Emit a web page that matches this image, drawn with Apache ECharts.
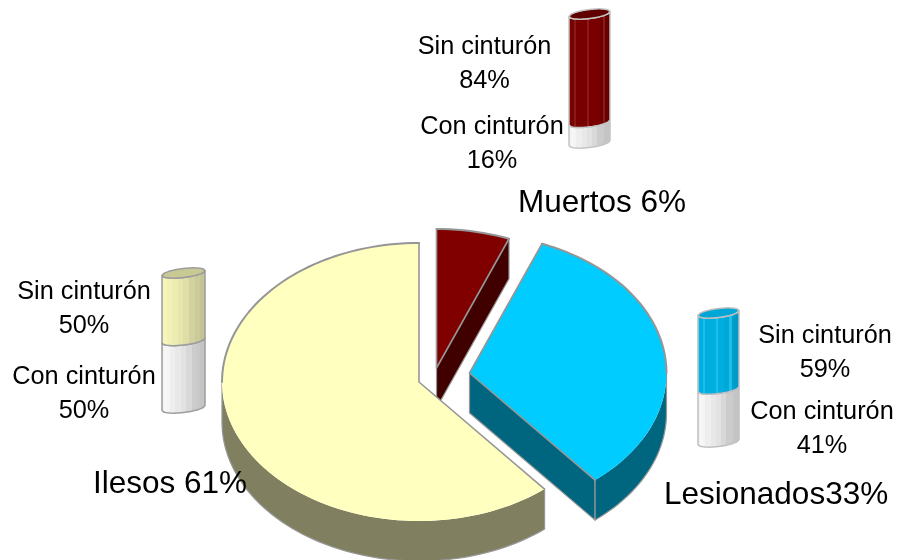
<!DOCTYPE html>
<html>
<head>
<meta charset="utf-8">
<script src="https://cdn.jsdelivr.net/npm/echarts@6/dist/echarts.min.js"></script>
<style>
  html, body { margin: 0; padding: 0; background: #fff; }
  #chart { width: 897px; height: 560px; }
</style>
</head>
<body>
<div id="chart"></div>
<script>
// data
const sliceNames = ['Muertos', 'Lesionados', 'Ilesos'];
const sliceShares = [6, 33, 61];
const sinCinturon = [84, 59, 50];
const conCinturon = [16, 41, 50];
const sinLabel = 'Sin cinturón';
const conLabel = 'Con cinturón';

// layout and styles
const FONT = '"Liberation Sans", Arial, sans-serif';
const RX = 197;
const RY = 139;
const DEPTH = 40;
const EDGE = '#969696';
const sliceCenters = [[436.5, 368], [469.5, 373], [419, 382]];
const sliceTops = ['#800000', '#00ccff', '#ffffc0'];
const sliceWalls = ['#400000', '#006680', '#808060'];
const cylRects = [
  { left: 569, width: 41, top: 14, height: 129 },
  { left: 698, width: 41, top: 313, height: 129 },
  { left: 162, width: 43, top: 273, height: 135 }
];
const cylCaps = ['#600000', '#00a6d6', '#c9c994'];
const cylEdges = ['#c4c4c4', '#c0c0c0', '#9c9c9c'];
const M = '#780000';
const M2 = '#8a1a1a';
const B = '#00aedf';
const B2 = '#1cbeec';
const cylBands = [
  ['#7c0000', M, M2, M, M, M, M, M2, M, M, M, M, '#6e0000', M2, '#680000', '#600000'],
  ['#00b8e8', B, B2, B, B, B, B, B2, B, B, '#00a8d8', '#00a8d8', B2, '#00a0cc', '#009cc8', '#0098c4'],
  ['#f6f6b8', '#f6f6b8', '#f2f2b8', '#f2f2b8', '#ececb2', '#ececb2', '#e6e6ac', '#e6e6ac', '#deDEa6', '#deDEa6', '#d2d2a0', '#d2d2a0', '#caca9a', '#caca9a', '#c4c494', '#c4c494']
];
const whiteBands = ['#f2f2f2', '#f6f6f6', '#f4f4f4', '#eeeeee', '#eeeeee', '#e8e8e8', '#e8e8e8', '#e2e2e2', '#e2e2e2', '#d8d8d8', '#d8d8d8', '#cccccc', '#cccccc', '#c8c8c8', '#c4c4c4', '#c4c4c4'];
const pieLabelPos = [[602, 203], [664, 495], [170, 484]];
const sinLabelPos = [[484.5, 64], [825, 353], [84, 309]];
const conLabelPos = [[492, 144], [822, 429], [84, 394]];

const rad = (d) => (d * Math.PI) / 180;

// a: degrees clockwise from the top of the ellipse
function arc(c, a0, a1, dy) {
  const pts = [];
  const n = Math.max(2, Math.ceil(Math.abs(a1 - a0) / 2));
  for (let i = 0; i <= n; i++) {
    const a = rad(a0 + ((a1 - a0) * i) / n);
    pts.push([c[0] + RX * Math.sin(a), c[1] - RY * Math.cos(a) + dy]);
  }
  return pts;
}

function line(points, width) {
  return {
    type: 'polyline',
    shape: { points },
    style: { fill: null, stroke: EDGE, lineWidth: width, lineJoin: 'round', lineCap: 'round' }
  };
}

function renderSlice(params, api) {
  const i = params.dataIndex;
  let before = 0;
  for (let k = 0; k < i; k++) before += sliceShares[k];
  const a0 = (before / 100) * 360;
  const a1 = a0 + (api.value(0) / 100) * 360;
  const c = sliceCenters[i];
  const children = [];

  // radial wall, only when it faces the viewer
  if (a1 > 0 && a1 < 180) {
    const p = arc(c, a1, a1, 0)[0];
    const q = [p[0], p[1] + DEPTH];
    const d = [c[0], c[1] + DEPTH];
    children.push({
      type: 'polygon',
      shape: { points: [c, p, q, d] },
      style: { fill: sliceWalls[i], stroke: null }
    });
    children.push(line([c, d, q, p], 1.2));
  }
  // outer wall, front half of the ellipse
  const w0 = Math.max(a0, 90);
  const w1 = Math.min(a1, 270);
  if (w1 > w0) {
    const top = arc(c, w0, w1, 0);
    const bottom = arc(c, w1, w0, DEPTH);
    children.push({
      type: 'polygon',
      shape: { points: top.concat(bottom) },
      style: { fill: sliceWalls[i], stroke: null }
    });
    children.push(line([top[top.length - 1]].concat(bottom, [top[0]]), 1.2));
  }
  // top face, the front of the arc stays unstroked
  children.push({
    type: 'polygon',
    shape: { points: [c].concat(arc(c, a0, a1, 0)) },
    style: { fill: sliceTops[i], stroke: null }
  });
  const start = arc(c, a0, a0, 0)[0];
  const end = arc(c, a1, a1, 0)[0];
  children.push(line([start, c, end], 1.6));
  if (a0 < 90) children.push(line(arc(c, a0, Math.min(a1, 90), 0), 2));
  if (a1 > 270) children.push(line(arc(c, Math.max(a0, 270), a1, 0), 2));
  return { type: 'group', children };
}

function bandFill(bands) {
  const stops = [];
  bands.forEach((color, i) => {
    stops.push({ offset: i / bands.length, color });
    stops.push({ offset: (i + 1) / bands.length, color });
  });
  return new echarts.graphic.LinearGradient(0, 0, 1, 0, stops);
}

// front (sign 1) or back (sign -1) edge of a cylinder ring, left to right
function ring(box, y, sign) {
  const pts = [];
  const rx = box.width / 2;
  const ry = 4.5;
  const tilt = 2.5;
  for (let i = 0; i <= 24; i++) {
    const u = -1 + i / 12;
    pts.push([
      box.x + rx + rx * u,
      y + sign * ry * Math.sqrt(1 - u * u) - tilt * u
    ]);
  }
  return pts;
}

function renderCylinder(cyl, params, api) {
  const box = params.coordSys;
  const yLow = api.coord([0, api.value(1)])[1];
  const yHigh = api.coord([0, api.value(2)])[1];
  const isSin = params.dataIndex === 1;
  const bands = isSin ? cylBands[cyl] : whiteBands;
  const edge = cylEdges[cyl];
  const children = [{
    type: 'polygon',
    shape: { points: ring(box, yHigh, 1).concat(ring(box, yLow, 1).reverse()) },
    style: { fill: bandFill(bands), stroke: edge, lineWidth: 1.5, lineJoin: 'round' }
  }];
  if (isSin) {
    children.push({
      type: 'polygon',
      shape: { points: ring(box, yHigh, 1).concat(ring(box, yHigh, -1).reverse()) },
      style: { fill: cylCaps[cyl], stroke: edge, lineWidth: 1.5, lineJoin: 'round' }
    });
  }
  return { type: 'group', children };
}

const grid = cylRects.map((r) => Object.assign({ containLabel: false }, r));
const xAxis = cylRects.map((r, i) => ({ gridIndex: i, type: 'value', min: 0, max: 1, show: false }));
const yAxis = cylRects.map((r, i) => ({ gridIndex: i, type: 'value', min: 0, max: 100, show: false }));

const cylinderSeries = sliceNames.map((name, i) => ({
  type: 'custom',
  name,
  xAxisIndex: i,
  yAxisIndex: i,
  coordinateSystem: 'cartesian2d',
  encode: { x: 0, y: [1, 2] },
  clip: false,
  silent: true,
  renderItem: (params, api) => renderCylinder(i, params, api),
  data: [
    [0, 0, conCinturon[i]],
    [0, conCinturon[i], conCinturon[i] + sinCinturon[i]]
  ]
}));

function text(pos, str, size, align, lineHeight) {
  return {
    type: 'text',
    x: pos[0],
    y: pos[1],
    z: 10,
    silent: true,
    style: {
      text: str,
      fill: '#000',
      fontFamily: FONT,
      fontSize: size,
      lineHeight,
      align,
      verticalAlign: 'middle'
    }
  };
}

const labels = [];
sliceNames.forEach((name, i) => {
  // the reference runs the name and the share together for Lesionados
  const sep = name === 'Lesionados' ? '' : ' ';
  labels.push(text(pieLabelPos[i], name + sep + sliceShares[i] + '%', 31.5, name === 'Lesionados' ? 'left' : 'center', 36));
  labels.push(text(sinLabelPos[i], sinLabel + '\n' + sinCinturon[i] + '%', 25.3, 'center', 34));
  labels.push(text(conLabelPos[i], conLabel + '\n' + conCinturon[i] + '%', 25.3, 'center', 34));
});

const chart = echarts.init(document.getElementById('chart'));
chart.setOption({
  animation: false,
  backgroundColor: '#fff',
  grid,
  xAxis,
  yAxis,
  graphic: labels,
  series: [{
    type: 'custom',
    name: 'Total',
    coordinateSystem: 'none',
    silent: true,
    renderItem: renderSlice,
    data: sliceShares.map((v) => [v])
  }].concat(cylinderSeries)
});
</script>
</body>
</html>
